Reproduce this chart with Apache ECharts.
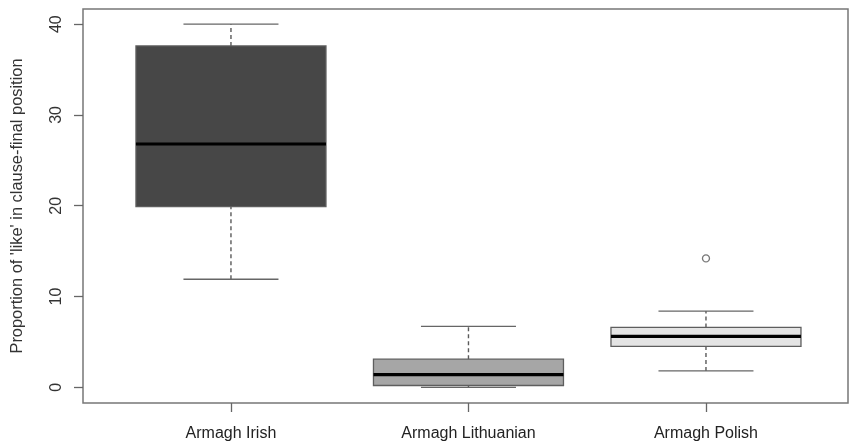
<!DOCTYPE html>
<html>
<head>
<meta charset="utf-8">
<script src="https://cdn.jsdelivr.net/npm/echarts@6/dist/echarts.min.js"></script>
<style>
  html, body { margin: 0; padding: 0; background: #fff; }
  #chart { width: 849px; height: 444px; }
</style>
</head>
<body>
<div id="chart"></div>
<script>
// Group labels and five-number summaries per group
const categories = ['Armagh Irish', 'Armagh Lithuanian', 'Armagh Polish'];
const lowerWhisker = [11.9, 0.0, 1.8];
const lowerQuartile = [19.9, 0.2, 4.5];
const medians = [26.8, 1.4, 5.6];
const upperQuartile = [37.6, 3.1, 6.6];
const upperWhisker = [40.0, 6.7, 8.4];

// Points beyond the whiskers: group number (1-based) and value
const outlierGroup = [3];
const outlierValue = [14.2];

// Y tick positions
const yTicks = [0, 10, 20, 30, 40];

const boxFills = ['#474747', '#a6a6a6', '#e4e4e4'];
const lineGrey = '#666666';
const font = 'Liberation Sans, Arial, sans-serif';

const boxData = categories.map((c, i) => [
  i + 1, lowerWhisker[i], lowerQuartile[i], medians[i], upperQuartile[i], upperWhisker[i]
]);
const outlierData = outlierGroup.map((g, i) => [g, outlierValue[i]]);

function renderBox(params, api) {
  const x = api.value(0);
  const lo = api.coord([x, api.value(1)]);
  const q1 = api.coord([x, api.value(2)]);
  const med = api.coord([x, api.value(3)]);
  const q3 = api.coord([x, api.value(4)]);
  const hi = api.coord([x, api.value(5)]);
  const boxW = api.size([0.8, 0])[0];
  const capW = api.size([0.4, 0])[0];
  const cx = lo[0];
  const dashed = { stroke: '#5a5a5a', lineWidth: 1.4, lineDash: [4, 3] };
  const solid = { stroke: lineGrey, lineWidth: 1.3 };
  return {
    type: 'group',
    children: [
      { type: 'line', shape: { x1: cx, y1: q3[1], x2: cx, y2: hi[1] }, style: dashed },
      { type: 'line', shape: { x1: cx, y1: lo[1], x2: cx, y2: q1[1] }, style: dashed },
      { type: 'line', shape: { x1: cx - capW / 2, y1: hi[1], x2: cx + capW / 2, y2: hi[1] }, style: solid },
      { type: 'line', shape: { x1: cx - capW / 2, y1: lo[1], x2: cx + capW / 2, y2: lo[1] }, style: solid },
      {
        type: 'rect',
        shape: { x: cx - boxW / 2, y: q3[1], width: boxW, height: q1[1] - q3[1] },
        style: { fill: boxFills[params.dataIndex], stroke: '#5e5e5e', lineWidth: 1.3 }
      },
      {
        type: 'line',
        shape: { x1: cx - boxW / 2, y1: med[1], x2: cx + boxW / 2, y2: med[1] },
        style: { stroke: '#000', lineWidth: 3.2 }
      }
    ]
  };
}

const chart = echarts.init(document.getElementById('chart'), null, { renderer: 'canvas' });
chart.setOption({
  backgroundColor: '#ffffff',
  animation: false,
  grid: {
    left: 83, right: 1, top: 9, bottom: 41,
    show: true, borderColor: '#777777', borderWidth: 1.5,
    outerBoundsMode: 'none', containLabel: false
  },
  xAxis: {
    type: 'value',
    min: 0.377, max: 3.598,
    splitLine: { show: false },
    axisLine: { show: false, onZero: false },
    axisTick: { show: true, customValues: [1, 2, 3], length: 9, lineStyle: { color: lineGrey, width: 1.3 } },
    axisLabel: {
      customValues: [1, 2, 3],
      formatter: v => categories[Math.round(v) - 1],
      fontFamily: font, fontSize: 16, color: '#222', margin: 23
    }
  },
  yAxis: {
    type: 'value',
    min: -1.73, max: 41.67,
    splitLine: { show: false },
    axisLine: { show: false, onZero: false },
    axisTick: { show: true, customValues: yTicks, length: 9, lineStyle: { color: lineGrey, width: 1.3 } },
    axisLabel: {
      customValues: yTicks,
      rotate: 90,
      fontFamily: font, fontSize: 16, color: '#333', margin: 18
    },
    name: "Proportion of 'like' in clause-final position",
    nameLocation: 'middle',
    nameRotate: 90,
    nameGap: 58,
    nameTextStyle: { fontFamily: font, fontSize: 16.4, color: '#333' }
  },
  series: [
    {
      type: 'custom',
      renderItem: renderBox,
      data: boxData,
      encode: { x: 0, y: [1, 2, 3, 4, 5] },
      silent: true
    },
    {
      type: 'scatter',
      data: outlierData,
      symbol: 'circle',
      symbolSize: 7,
      itemStyle: { color: '#ffffff', borderColor: '#555555', borderWidth: 1.3 },
      silent: true
    }
  ]
});
</script>
</body>
</html>
